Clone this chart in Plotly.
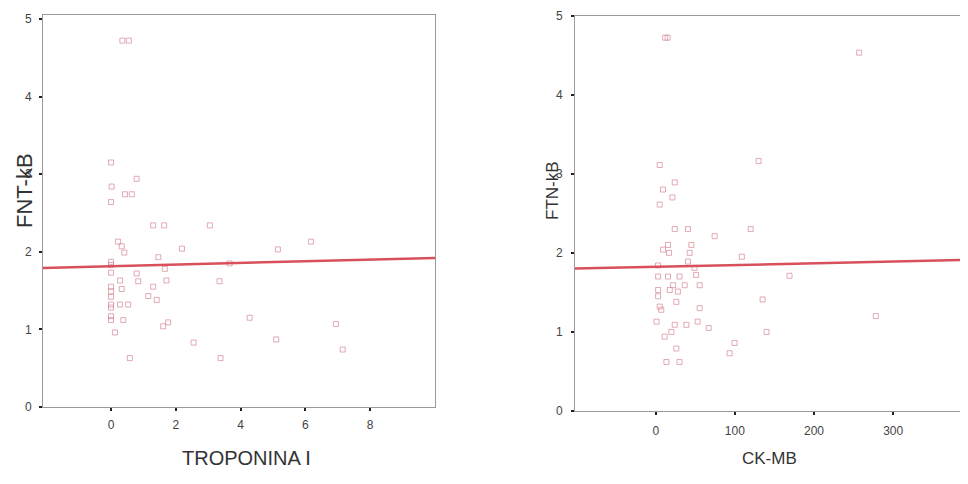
import plotly.graph_objects as go

# ---- data ----
trop_x = [0.35, 0.55, 0, 0.79, 0.02, 0.43, 0.64, 0, 1.30, 1.64, 3.05,
          0.22, 0.33, 0.41, 2.19, 1.46, 0, 0, 1.66, 0, 0.79,
          0.84, 0.28, 1.71, 3.35, 0, 0, 0.33, 1.30, 1.15, 1.41, 0,
          0, 0.28, 0.53, 0, 0.38, 1.76, 1.61, 0.12, 2.55, 0.58, 3.38,
          5.15, 6.17, 3.66, 4.28, 6.94, 5.10, 7.15, 0, 0]
trop_y = [4.72, 4.72, 3.15, 2.94, 2.84, 2.74, 2.74, 2.64, 2.34, 2.34, 2.34,
          2.13, 2.07, 1.99, 2.04, 1.93, 1.87, 1.83, 1.78, 1.73, 1.72,
          1.62, 1.63, 1.63, 1.62, 1.55, 1.49, 1.52, 1.55, 1.43, 1.38, 1.42,
          1.32, 1.32, 1.32, 1.17, 1.12, 1.09, 1.04, 0.96, 0.83, 0.63, 0.63,
          2.03, 2.13, 1.85, 1.15, 1.07, 0.87, 0.74, 1.28, 1.12]

ckmb_x = [12, 15, 5, 24, 9.2, 21, 5,
          24, 40.7, 74.4, 15.5, 45, 9.2, 16.8, 42.9, 40.7, 2.9, 49, 51,
          3, 15.5, 30, 22, 36.6, 55.5, 3, 17.7, 28, 3, 26, 5, 7, 55.5,
          1, 24, 38.7, 53, 67, 19.8, 11.3, 26, 99.6, 93.3, 13.5, 30,
          130, 120, 108.8, 169, 135, 140, 257, 278]
ckmb_y = [4.72, 4.72, 3.11, 2.89, 2.80, 2.70, 2.61,
          2.30, 2.30, 2.21, 2.10, 2.10, 2.04, 2.00, 2.00, 1.89, 1.84, 1.81, 1.72,
          1.70, 1.70, 1.70, 1.59, 1.59, 1.59, 1.53, 1.53, 1.51, 1.45, 1.38, 1.32, 1.28, 1.30,
          1.13, 1.09, 1.09, 1.13, 1.05, 1.00, 0.94, 0.79, 0.86, 0.73, 0.62, 0.62,
          3.16, 2.30, 1.95, 1.71, 1.41, 1.00, 4.53, 1.20]

fit1_x = [-2.1, 10]
fit1_y = [1.79, 1.92]
fit2_x = [-102, 392]
fit2_y = [1.80, 1.91]

left_ticks = [0, 2, 4, 6, 8]
right_ticks = [0, 100, 200, 300]
y_ticks = [0, 1, 2, 3, 4, 5]

# page body has an 8px margin; figure sized so the window shows it fully
OFF = 8
W, H = 960, 476


def px(x):
    return (x - OFF) / W


def py(y):
    return 1 - (y - OFF) / H


marker_col = "rgba(212,135,148,0.7)"
line_col = "#d9505c"

fig = go.Figure()
fig.add_trace(go.Scatter(x=trop_x, y=trop_y, mode="markers", xaxis="x", yaxis="y",
                         marker=dict(symbol="square-open", size=5, color=marker_col,
                                     line=dict(width=1, color=marker_col))))
fig.add_trace(go.Scatter(x=fit1_x, y=fit1_y, mode="lines", xaxis="x", yaxis="y",
                         line=dict(color=line_col, width=2.5)))
fig.add_trace(go.Scatter(x=ckmb_x, y=ckmb_y, mode="markers", xaxis="x2", yaxis="y2",
                         marker=dict(symbol="square-open", size=5, color=marker_col,
                                     line=dict(width=1, color=marker_col))))
fig.add_trace(go.Scatter(x=fit2_x, y=fit2_y, mode="lines", xaxis="x2", yaxis="y2",
                         line=dict(color=line_col, width=2.5)))

tickfont = dict(family="Liberation Sans, Arial, sans-serif", size=12, color="#444")
axcommon = dict(showline=True, linecolor="#9a9a9a", linewidth=1, mirror=True,
                showgrid=False, zeroline=False, ticks="outside", ticklen=3,
                tickwidth=2, tickcolor="#222", tickfont=tickfont, automargin=False)

fig.update_layout(
    width=W, height=H, margin=dict(l=0, r=0, t=0, b=0, autoexpand=False),
    paper_bgcolor="white", plot_bgcolor="white", showlegend=False,
    xaxis=dict(domain=[px(43), px(435)], range=[-2.1, 10], tickvals=left_ticks,
               anchor="y", ticklabelstandoff=4, **axcommon),
    yaxis=dict(domain=[py(407), py(15)], range=[0, 5.05], tickvals=y_ticks,
               anchor="x", ticklabelstandoff=5, **axcommon),
    xaxis2=dict(domain=[px(575), px(966)], range=[-102, 392], tickvals=right_ticks,
                anchor="y2", ticklabelstandoff=6, **axcommon),
    yaxis2=dict(domain=[py(411), py(15.5)], range=[0, 5.0], tickvals=y_ticks,
                anchor="x2", ticklabelstandoff=6, **axcommon),
)

titlefont = "Liberation Sans, Arial, sans-serif"
ann = dict(xref="paper", yref="paper", showarrow=False, xanchor="center", yanchor="middle")
fig.add_annotation(text="FNT-kB", x=px(25), y=py(191), textangle=-90,
                   font=dict(family=titlefont, size=22, color="#333"), **ann)
fig.add_annotation(text="FTN-kB", x=px(553), y=py(191), textangle=-90,
                   font=dict(family=titlefont, size=17, color="#333"), **ann)
fig.add_annotation(text="TROPONINA I", x=px(246), y=py(458),
                   font=dict(family=titlefont, size=20, color="#333"), **ann)
fig.add_annotation(text="CK-MB", x=px(769), y=py(458),
                   font=dict(family=titlefont, size=17, color="#333"), **ann)

fig.write_html("out.html")
